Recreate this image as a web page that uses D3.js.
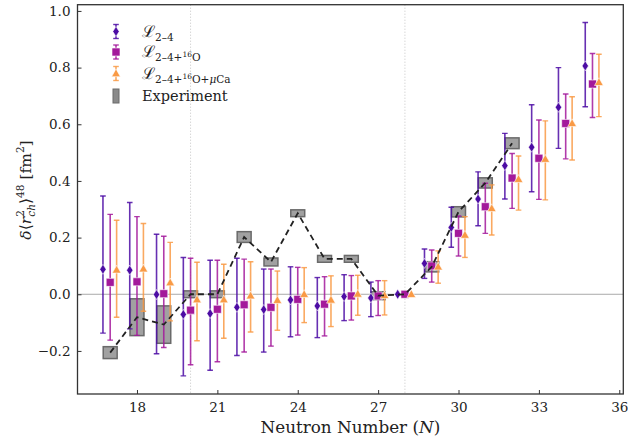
<!DOCTYPE html>
<html><head><meta charset="utf-8">
<script src="https://cdn.jsdelivr.net/npm/d3@7"></script>
<style>body{margin:0;background:#fff}</style>
</head><body>
<svg id="c" width="628" height="442" xmlns="http://www.w3.org/2000/svg"></svg>
<script>
// ---------- data ----------
const neutrons = [17,18,19,20,21,22,23,24,25,26,27,28,29,30,31,32,33,34,35];

const l24Val = [0.088,0.085,-0.001,-0.071,-0.068,-0.046,-0.054,-0.020,-0.041,-0.008,-0.013,0.000,0.109,0.236,0.336,0.454,0.519,0.660,0.806];
const l24Lo  = [-0.137,-0.122,-0.210,-0.288,-0.268,-0.216,-0.204,-0.150,-0.153,-0.093,-0.079,0.000,0.056,0.166,0.242,0.336,0.362,0.515,0.662];
const l24Hi  = [0.347,0.324,0.212,0.130,0.120,0.127,0.089,0.097,0.059,0.069,0.043,0.000,0.160,0.307,0.432,0.568,0.669,0.800,0.959];

const lOVal = [0.042,0.044,0.002,-0.056,-0.053,-0.037,-0.046,-0.018,-0.035,-0.006,-0.006,0.000,0.100,0.215,0.309,0.410,0.480,0.603,0.742];
const lOLo  = [-0.162,-0.145,-0.188,-0.249,-0.238,-0.204,-0.183,-0.144,-0.147,-0.091,-0.075,0.000,0.043,0.135,0.215,0.303,0.335,0.478,0.624];
const lOHi  = [0.282,0.274,0.205,0.127,0.120,0.124,0.089,0.095,0.062,0.066,0.048,0.000,0.156,0.276,0.392,0.497,0.615,0.707,0.850];

const lCaVal = [0.086,0.090,0.041,-0.019,-0.019,-0.005,-0.021,0.000,-0.020,0.001,-0.004,0.000,0.097,0.209,0.303,0.406,0.477,0.603,0.748];
const lCaLo  = [-0.081,-0.060,-0.094,-0.164,-0.155,-0.133,-0.127,-0.100,-0.114,-0.074,-0.073,0.000,0.039,0.130,0.209,0.297,0.333,0.474,0.627];
const lCaHi  = [0.261,0.250,0.183,0.113,0.106,0.115,0.082,0.094,0.065,0.067,0.048,0.000,0.153,0.274,0.386,0.488,0.612,0.697,0.847];

const expN   = [17,18,19,20,21,22,23,24,25,26,27,28,29,30,31,32];
const expVal = [-0.206,-0.081,-0.107,0.000,0.000,0.202,0.114,0.286,0.125,0.125,-0.005,0.000,0.097,0.291,0.393,0.533];
const expErr = [0.021,0.065,0.066,0.012,0.012,0.019,0.014,0.012,0.012,0.012,0.014,0.000,0.018,0.018,0.018,0.019];

const xTicks = [18,21,24,27,30,33,36];
const yTicks = [-0.2,0.0,0.2,0.4,0.6,0.8,1.0];
const shellLines = [20,28];

// ---------- layout ----------
const svg = d3.select("#c");
const L = 77.5, R = 623.3, T = 4.7, B = 394;
const x = d3.scaleLinear().domain([15.78, 36.15]).range([L, R]);
const y = d3.scaleLinear().domain([-0.352, 1.022]).range([B, T]);
const serif = "'DejaVu Serif', serif";

const plot = svg.append("g");
svg.append("defs").append("clipPath").attr("id","clip")
  .append("rect").attr("x",L).attr("y",T).attr("width",R-L).attr("height",B-T);
plot.attr("clip-path","url(#clip)");

// reference lines
plot.selectAll(".vl").data(shellLines).enter().append("line")
  .attr("x1",d=>x(d)).attr("x2",d=>x(d)).attr("y1",T).attr("y2",B)
  .attr("stroke","#c4c4c4").attr("stroke-width",1).attr("stroke-dasharray","1,2");
plot.append("line").attr("x1",L).attr("x2",R).attr("y1",y(0)).attr("y2",y(0))
  .attr("stroke","#aaaaaa").attr("stroke-width",1);

// experiment boxes
const boxW = 0.52;
const expData = expN.map((n,i)=>({n, v:expVal[i], e:expErr[i]}));
plot.selectAll(".box").data(expData.filter(d=>d.e>0)).enter().append("rect")
  .attr("x",d=>x(d.n-boxW/2)).attr("width",d=>x(d.n+boxW/2)-x(d.n-boxW/2))
  .attr("y",d=>y(d.v+d.e)).attr("height",d=>y(d.v-d.e)-y(d.v+d.e))
  .attr("fill","#8a8a8a").attr("fill-opacity",0.8)
  .attr("stroke","#6a6a6a").attr("stroke-width",1.5);

// series
const series = [
  {val:l24Val, lo:l24Lo, hi:l24Hi, off:-0.27, color:"#4c0ca4", shape:"diamond"},
  {val:lOVal,  lo:lOLo,  hi:lOHi,  off:0.0,   color:"#a3199b", shape:"square"},
  {val:lCaVal, lo:lCaLo, hi:lCaHi, off:0.24,  color:"#f99a45", shape:"triangle"}
];
function markerPath(shape){
  if(shape==="diamond") return "M0,-5L3.2,0L0,5L-3.2,0Z";
  if(shape==="square") return "M-4,-4L4,-4L4,4L-4,4Z";
  return "M0,-4.6L4.4,3.2L-4.4,3.2Z";
}
function drawErr(g, cx, y1, y2, color){
  g.append("line").attr("x1",cx).attr("x2",cx).attr("y1",y1).attr("y2",y2)
    .attr("stroke",color).attr("stroke-width",1.6).attr("stroke-opacity",0.85);
  [y1,y2].forEach(yy=>g.append("line").attr("x1",cx-2.8).attr("x2",cx+2.8).attr("y1",yy).attr("y2",yy)
    .attr("stroke",color).attr("stroke-width",1.4).attr("stroke-opacity",0.85));
}
series.forEach(s=>{
  const g = plot.append("g");
  neutrons.forEach((n,i)=>{
    const cx = x(n+s.off);
    if(s.hi[i]!==s.lo[i]) drawErr(g, cx, y(s.hi[i]), y(s.lo[i]), s.color);
    g.append("path").attr("d",markerPath(s.shape))
      .attr("transform",`translate(${cx},${y(s.val[i])})`)
      .attr("fill",s.color).attr("stroke","#ffffff").attr("stroke-width",0.6);
  });
});

// dashed experiment line
plot.append("path").datum(expData)
  .attr("d", d3.line().x(d=>x(d.n)).y(d=>y(d.v)))
  .attr("fill","none").attr("stroke","#222").attr("stroke-width",1.8)
  .attr("stroke-dasharray","6,4");

// axes
const xAxis = d3.axisBottom(x).tickValues(xTicks).tickSizeInner(-4).tickSizeOuter(0).tickPadding(8).tickFormat(d3.format("d"));
const yAxis = d3.axisLeft(y).tickValues(yTicks).tickSizeInner(-4).tickSizeOuter(0).tickPadding(7)
  .tickFormat(d=>d3.format(".1f")(d).replace("-","\u2212"));
const gx = svg.append("g").attr("transform",`translate(0,${B})`).call(xAxis);
const gy = svg.append("g").attr("transform",`translate(${L},0)`).call(yAxis);
[gx,gy].forEach(g=>{
  g.select(".domain").remove();
  g.selectAll("line").attr("stroke","#333");
  g.selectAll("text").attr("font-family",serif).attr("font-size",13.5).attr("fill","#222");
});
// frame
svg.append("rect").attr("x",L).attr("y",T).attr("width",R-L).attr("height",B-T)
  .attr("fill","none").attr("stroke","#333").attr("stroke-width",1.3);

// axis labels
const xl = svg.append("text").attr("x",(L+R)/2).attr("y",433).attr("text-anchor","middle")
  .attr("font-family",serif).attr("font-size",16.8).attr("fill","#222");
xl.append("tspan").text("Neutron Number (");
xl.append("tspan").attr("font-style","italic").text("N");
xl.append("tspan").text(")");

const yl = svg.append("text").attr("transform","translate(31,190) rotate(-90)")
  .attr("text-anchor","middle").attr("font-family",serif).attr("font-size",15.5).attr("fill","#222");
yl.append("tspan").attr("font-style","italic").text("δ");
yl.append("tspan").text("⟨");
yl.append("tspan").attr("font-style","italic").text("r");
yl.append("tspan").attr("font-size",10.5).attr("dy",-7).text("2");
yl.append("tspan").attr("font-size",10.5).attr("font-style","italic").attr("dx",-6.5).attr("dy",11).text("ch");
yl.append("tspan").attr("dy",-4).text("⟩");
yl.append("tspan").attr("font-size",10.5).attr("dy",-7).text("48");
yl.append("tspan").attr("dy",7).text(" [fm");
yl.append("tspan").attr("font-size",10.5).attr("dy",-7).text("2");
yl.append("tspan").attr("dy",7).text("]");

// legend
const lg = svg.append("g");
const legX = 116, legTx = 142, legY = [31.5, 52, 73.5, 96];
series.forEach((s,i)=>{
  const cy = legY[i];
  drawErr(lg, legX, cy-7, cy+7, s.color);
  lg.append("path").attr("d",markerPath(s.shape)).attr("transform",`translate(${legX},${cy})`)
    .attr("fill",s.color).attr("stroke","#fff").attr("stroke-width",0.6);
});
lg.append("rect").attr("x",legX-3).attr("y",legY[3]-7).attr("width",6).attr("height",14)
  .attr("fill","#8a8a8a").attr("stroke","#6a6a6a").attr("stroke-width",1);

const labelSpecs = [
  [["ℒ",0,16,"normal"],["2–4",4,10.5,"normal"]],
  [["ℒ",0,16,"normal"],["2–4+",4,10.5,"normal"],["16",-4,7.5,"normal"],["O",4,10.5,"normal"]],
  [["ℒ",0,16,"normal"],["2–4+",4,10.5,"normal"],["16",-4,7.5,"normal"],["O+",4,10.5,"normal"],["μ",0,10.5,"italic"],["Ca",0,10.5,"normal"]]
];
labelSpecs.forEach((spec,i)=>{
  const t = lg.append("text").attr("x",legTx).attr("y",legY[i]+5).attr("font-family",serif).attr("fill","#222");
  spec.forEach(([txt,dy,fs,st])=>{
    t.append("tspan").attr("dy",dy).attr("font-size",fs).attr("font-style",st).text(txt);
  });
});
lg.append("text").attr("x",legTx).attr("y",legY[3]+5).attr("font-family",serif).attr("font-size",14.5)
  .attr("fill","#222").text("Experiment");
</script>
</body></html>
